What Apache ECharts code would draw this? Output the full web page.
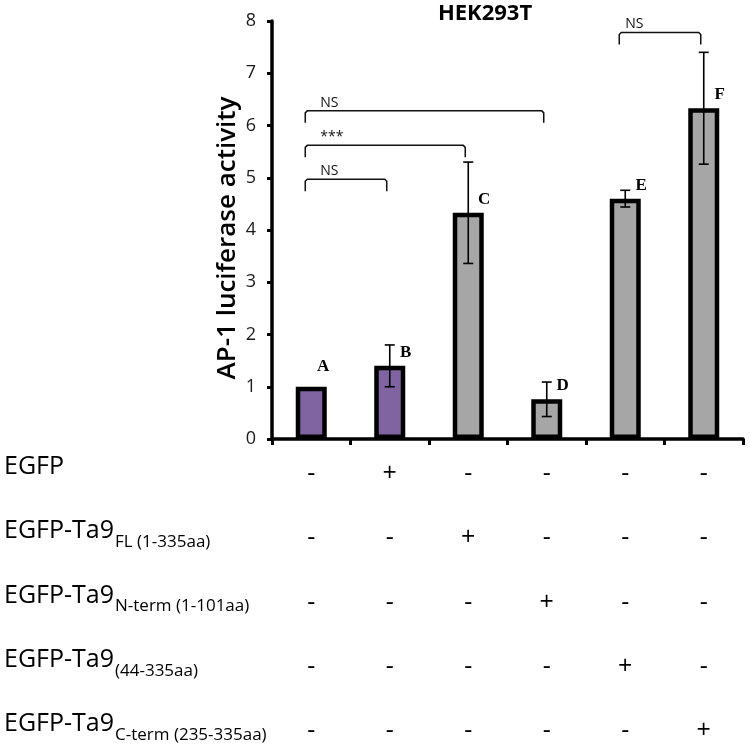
<!DOCTYPE html>
<html><head><meta charset="utf-8">
<script src="https://cdn.jsdelivr.net/npm/echarts@6/dist/echarts.min.js"></script>
<style>html,body{margin:0;padding:0;background:#fff}#c{width:750px;height:748px}</style>
</head><body><div id="c"></div>
<script>
// ---- data ----
const categories = ['A', 'B', 'C', 'D', 'E', 'F'];
const values = [1.00, 1.40, 4.33, 0.76, 4.60, 6.33];
const errors = [0, 0.40, 0.97, 0.33, 0.16, 1.07];
const barGroups = ['purple', 'purple', 'gray', 'gray', 'gray', 'gray'];
const yTickValues = [0, 1, 2, 3, 4, 5, 6, 7, 8];
const bracketFrom = [0, 0, 0, 4];
const bracketTo = [1, 2, 3, 5];
const bracketLevel = [4.97, 5.62, 6.28, 7.78];
const bracketText = ['NS', '***', 'NS', 'NS'];
const rowMain = ['EGFP', 'EGFP-Ta9', 'EGFP-Ta9', 'EGFP-Ta9', 'EGFP-Ta9'];
const rowSub = ['', 'FL (1-335aa)', 'N-term (1-101aa)', '(44-335aa)', 'C-term (235-335aa)'];
const rowPlusColumn = [1, 2, 3, 4, 5];
const title = 'HEK293T';
const yAxisTitle = 'AP-1 luciferase activity';

// ---- styles ----
const colors = { purple: '#8064A2', gray: '#A6A6A6' };
const SANS = '"Open Sans", "Noto Sans", sans-serif';
const SERIF = '"Liberation Serif", "DejaVu Serif", serif';
const rowTop = 28, rowStep = 64.25;

const chart = echarts.init(document.getElementById('c'), null, { renderer: 'canvas' });

const ctx = document.createElement('canvas').getContext('2d');
function textWidth(t, font) { ctx.font = font; return ctx.measureText(t).width; }

const cells = [];
rowMain.forEach((_, r) => {
  categories.forEach((__, c) => cells.push([c, r, c === rowPlusColumn[r] ? '+' : '-']));
});

const bracketData = bracketFrom.map((f, i) => [f, bracketTo[i], bracketLevel[i], i]);

const graphics = [
  { type: 'text', x: 228, y: 238, rotation: Math.PI / 2,
    style: { text: yAxisTitle, font: '600 26px ' + SANS, fill: '#000', align: 'center', verticalAlign: 'middle' } },
  { type: 'text', x: 485, y: 14,
    style: { text: title, font: 'bold 22px ' + SANS, fill: '#000', align: 'center', verticalAlign: 'middle' } }
];
const mainFont = '25px ' + SANS, subFont = '17px ' + SANS;
rowMain.forEach((m, r) => {
  const yc = 439 + rowTop + r * rowStep;
  graphics.push({ type: 'text', x: 4, y: yc,
    style: { text: m, font: mainFont, fill: '#000', align: 'left', verticalAlign: 'middle' } });
  if (rowSub[r]) {
    graphics.push({ type: 'text', x: 4 + textWidth(m, mainFont) + 1, y: yc + 11,
      style: { text: rowSub[r], font: subFont, fill: '#000', align: 'left', verticalAlign: 'middle' } });
  }
});

const option = {
  animation: false,
  grid: { left: 272, right: 7, top: 21, bottom: 309 },
  xAxis: {
    type: 'category', data: categories,
    axisLine: { lineStyle: { color: '#000', width: 3.5 } },
    axisTick: { show: true, length: 6, lineStyle: { color: '#000', width: 3 } },
    axisLabel: { show: false }
  },
  yAxis: {
    type: 'value', min: yTickValues[0], max: yTickValues[yTickValues.length - 1], interval: 1,
    axisLine: { show: true, lineStyle: { color: '#000', width: 3.5 } },
    axisTick: { show: true, length: 5, lineStyle: { color: '#000', width: 3 } },
    splitLine: { show: false },
    axisLabel: { fontSize: 18, fontFamily: SANS, color: '#1a1a1a', margin: 16 }
  },
  graphic: graphics,
  series: [
    {
      type: 'bar', barWidth: 31,
      data: values.map((v, i) => ({
        value: v,
        itemStyle: { color: colors[barGroups[i]] },
        label: i === 0 ? { offset: [12, -7] } : {}
      })),
      itemStyle: { borderColor: '#000', borderWidth: 4.5 },
      label: { show: true, position: 'top', distance: 5, offset: [16, 0],
        formatter: p => categories[p.dataIndex],
        fontFamily: SERIF, fontWeight: 'bold', fontSize: 17, color: '#000' },
      z: 2
    },
    {
      type: 'custom', z: 5,
      data: values.map((v, i) => [i, v, errors[i]]),
      renderItem: (params, api) => {
        const i = api.value(0), v = api.value(1), e = api.value(2);
        if (!e) return null;
        const t = api.coord([i, v + e]), b = api.coord([i, v - e]);
        const hw = 5, st = { stroke: '#000', lineWidth: 1.6 };
        return { type: 'group', children: [
          { type: 'line', shape: { x1: t[0], y1: t[1], x2: b[0], y2: b[1] }, style: st },
          { type: 'line', shape: { x1: t[0] - hw, y1: t[1], x2: t[0] + hw, y2: t[1] }, style: st },
          { type: 'line', shape: { x1: b[0] - hw, y1: b[1], x2: b[0] + hw, y2: b[1] }, style: st }
        ] };
      }
    },
    {
      type: 'custom', z: 5, clip: false,
      data: bracketData,
      renderItem: (params, api) => {
        const f = api.value(0), t = api.value(1), lv = api.value(2), k = api.value(3);
        const p1 = api.coord([f, lv]), p2 = api.coord([t, lv]);
        const x1 = p1[0] - 6, x2 = p2[0] - 3, y = p1[1], drop = 12;
        const textX = x1 + (k === 3 ? 6 : 15);
        return { type: 'group', children: [
          { type: 'polyline', shape: { points: [[x1, y + drop], [x1, y + 2], [x1 + 2, y], [x2 - 2, y], [x2, y + 2], [x2, y + drop]] },
            style: { stroke: '#111', lineWidth: 1.5, fill: null } },
          { type: 'text', style: { text: bracketText[k], x: textX, y: y - 8, font: '14px ' + SANS, fill: '#111', align: 'left', verticalAlign: 'middle' } }
        ] };
      }
    },
    {
      type: 'custom', z: 5, clip: false,
      data: cells,
      renderItem: (params, api) => {
        const c = api.value(0), r = api.value(1);
        const p = api.coord([c, 0]);
        return { type: 'text', style: { text: cells[params.dataIndex][2], x: p[0], y: p[1] + rowTop + r * rowStep + 7,
          font: '25px ' + SANS, fill: '#000', align: 'center', verticalAlign: 'middle' } };
      }
    }
  ]
};
chart.setOption(option);
</script>
</body></html>
